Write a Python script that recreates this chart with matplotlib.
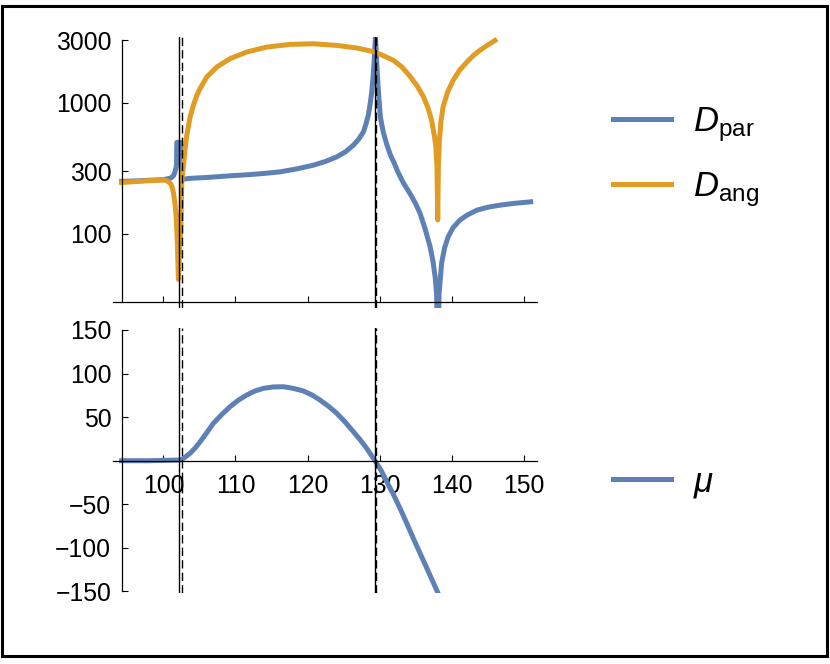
import matplotlib
matplotlib.use('Agg')
import matplotlib.pyplot as plt
from matplotlib.patches import Rectangle
from matplotlib.ticker import FixedLocator, NullLocator

plt.rcParams['font.family'] = ['Liberation Sans', 'DejaVu Sans']
plt.rcParams['mathtext.fontset'] = 'custom'
plt.rcParams['mathtext.rm'] = 'Liberation Sans'
plt.rcParams['mathtext.it'] = 'Liberation Sans:italic'

# D_par (blue)
x_par = [94.2, 96, 98, 100, 101, 101.4, 101.6, 101.75, 101.82, 101.86, 102.40, 102.55,
         103, 103.7, 106, 109.25, 112, 114, 116.2, 118.5, 120.8, 122.5, 124.05, 125.3,
         126.35, 127.1, 127.74, 128.1, 128.43, 128.7, 128.9, 129.1, 129.23, 129.42,
         129.6, 129.8, 130.1, 130.5, 131.0, 131.5, 132.0, 132.5, 133.3, 134.2, 135.0,
         135.6, 136.3, 137.0, 137.4, 137.7, 137.9, 138.06, 138.25, 138.6, 139.0, 139.5,
         140.2, 141.15, 142.2, 143.5, 145, 146.7, 148.5, 150.96]
y_par = [252, 254, 257, 260, 267, 278, 298, 320, 340, 500, 500, 262,
         263, 266, 270, 278, 284, 290, 298, 314, 335, 358, 388, 425,
         476, 530, 600, 690, 806, 1000, 1210, 1600, 2050, 3170,
         2000, 1300, 780, 600, 480, 400, 350, 300, 245, 204, 170,
         144, 110, 80, 62, 47, 35, 10, 35, 60, 78, 95,
         112, 128, 140, 152, 160, 166, 171, 176]

# D_ang (orange)
x_ang = [94.2, 96, 98, 100, 100.5, 101.0, 101.2, 101.4, 101.6, 101.75, 101.86, 101.95,
         102.03, 102.08, 102.14, 102.25, 102.41, 102.55, 102.77, 103.0, 103.24, 103.7,
         104.16, 104.6, 105.09, 106.02, 107.4, 109.25, 111.57, 114.34, 117.57, 120.8,
         124.05, 126.8, 129.36, 131.9, 133.1, 134.2, 135.2, 136.1, 136.7, 137.2, 137.6,
         137.8, 137.95, 138.06, 138.15, 138.3, 138.5, 138.8, 139.4, 140.2, 141.1, 142.1,
         143.0, 143.9, 145.0, 146.0]
y_ang = [247, 251, 255, 258, 255, 242, 229, 205, 171, 140, 107, 80,
         55, 45, 55, 80, 107, 258, 330, 440, 567, 780,
         960, 1130, 1290, 1580, 1880, 2180, 2450, 2670, 2800, 2830,
         2750, 2630, 2450, 2120, 1880, 1600, 1350, 1110, 920, 740, 560,
         463, 330, 128, 330, 520, 720, 930, 1200, 1490, 1780, 2050,
         2300, 2520, 2770, 3000]

# mu (blue)
x_mu = [94.2, 98, 102.3, 102.6, 103.0, 103.7, 104.4, 105.1, 106.0, 106.93, 108.1,
        109.25, 110.4, 111.57, 112.7, 113.87, 115.2, 116.64, 118.0, 119.42, 120.6,
        121.73, 122.9, 124.05, 125.2, 126.35, 127.3, 128.2, 129.36, 130.2, 130.98,
        131.9, 132.83, 133.75, 134.67, 135.6, 136.53, 138.0]
y_mu = [0, 0, 0.8, 1.8, 4, 8.5, 14.5, 21.8, 32, 42.9, 53,
        62, 69.5, 75.4, 80, 83, 84.6, 84.9, 83, 80, 75.5,
        69.6, 62.5, 54.4, 44.5, 33.3, 24, 14.2, 0, -11, -24,
        -38.5, -54.6, -71.5, -89, -106, -123, -150]

solid_x = [102.22, 129.40]
dashed_x = [102.64, 129.45]

top_yticks = [100, 300, 1000, 3000]
mu_yticks = [-150, -100, -50, 50, 100, 150]
xticks = [100, 110, 120, 130, 140, 150]

blue = '#5E81B5'
orange = '#E19C24'
lw = 3.6
fs = 17.8

fig = plt.figure(figsize=(8.3, 6.64), dpi=100)
ax1 = fig.add_axes([0.1361, 0.5354, 0.5106, 0.4092])
ax2 = fig.add_axes([0.1361, 0.1066, 0.5106, 0.3991])

# top panel
l_par, = ax1.plot(x_par, y_par, color=blue, lw=lw, solid_joinstyle='round',
                  label=r'$D_{\mathrm{par}}$')
l_ang, = ax1.plot(x_ang, y_ang, color=orange, lw=lw, solid_joinstyle='round',
                  label=r'$D_{\mathrm{ang}}$')
ax1.set_yscale('log')
ax1.set_xlim(93, 151.8)
ax1.set_ylim(27, 3200)
ax1.yaxis.set_major_locator(FixedLocator(top_yticks))
ax1.yaxis.set_minor_locator(NullLocator())
ax1.set_yticklabels([str(v) for v in top_yticks])
ax1.set_xticks(xticks)
ax1.tick_params(axis='x', labelbottom=False)
ax1.spines['left'].set_position(('data', 94.2))
ax1.spines['left'].set_bounds(30, 3000)
ax1.spines['bottom'].set_position(('data', 30))

# bottom panel
l_mu, = ax2.plot(x_mu, y_mu, color=blue, lw=lw, solid_joinstyle='round', label=r'$\mu$')
ax2.set_xlim(93, 151.8)
ax2.set_ylim(-152, 152)
ax2.set_yticks(mu_yticks)
ax2.set_xticks(xticks)
ax2.spines['left'].set_position(('data', 94.2))
ax2.spines['left'].set_bounds(-150, 150)
ax2.spines['bottom'].set_position(('data', 0))

for ax in (ax1, ax2):
    ax.patch.set_visible(False)
    for s in ('top', 'right'):
        ax.spines[s].set_visible(False)
    for s in ('left', 'bottom'):
        ax.spines[s].set_linewidth(0.9)
    ax.tick_params(direction='in', length=4.3, width=0.8, labelsize=fs)
    ax.tick_params(axis='y', pad=7.5)
    ax.tick_params(axis='x', pad=9.5)
    for v in solid_x:
        ax.axvline(v, color='black', lw=1.0, zorder=3)
    for v in dashed_x:
        ax.axvline(v, color='black', lw=1.0, dashes=(6, 3), zorder=3)

# legends
fig.legend(handles=[l_par, l_ang], loc='center left', bbox_to_anchor=(0.7382, 0.7635),
           frameon=False, fontsize=25, handlelength=1.68, handletextpad=0.64,
           borderpad=0, borderaxespad=0, labelspacing=0.75)
fig.legend(handles=[l_mu], loc='center left', bbox_to_anchor=(0.7382, 0.2736),
           frameon=False, fontsize=25, handlelength=1.68, handletextpad=0.64,
           borderpad=0, borderaxespad=0)

# frame around the whole figure
fig.patches.append(Rectangle((0.003, 0.0128), 0.9928, 0.9789, transform=fig.transFigure,
                             fill=False, edgecolor='black', lw=2.2))

fig.savefig('out.png', dpi=100)
